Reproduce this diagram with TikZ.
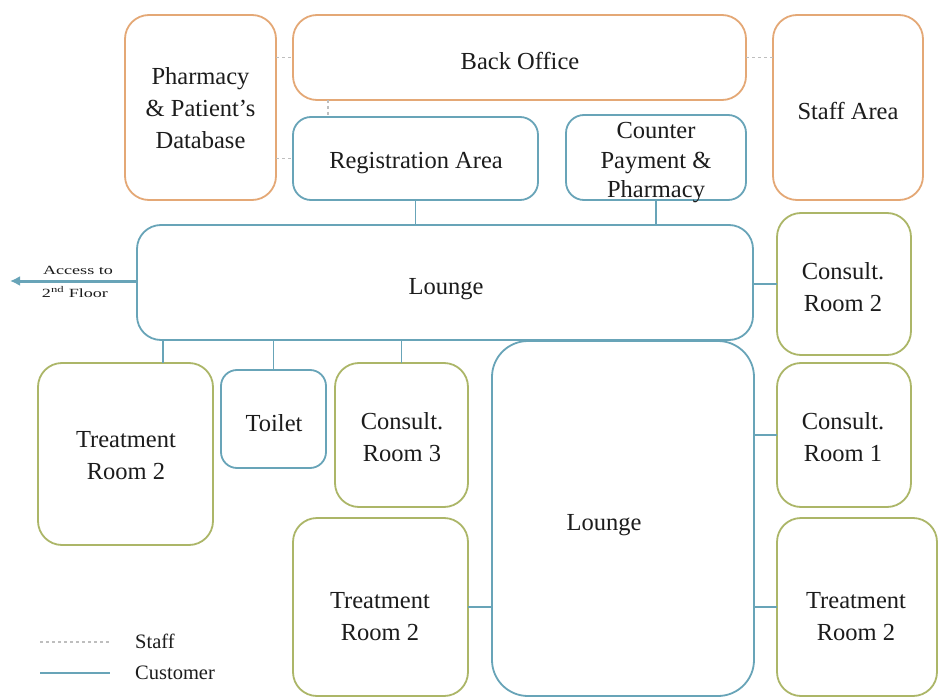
\documentclass[tikz,border=0pt]{standalone}
\usepackage{fontspec}
\setmainfont{Liberation Serif}
\newfontfamily\widefont[FakeStretch=1.45]{Liberation Serif}
\usetikzlibrary{arrows.meta}
\definecolor{staffedge}{RGB}{228,168,118}
\definecolor{custedge}{RGB}{104,164,184}
\definecolor{roomedge}{RGB}{172,182,104}
\definecolor{staffline}{RGB}{190,190,190}
\definecolor{ink}{RGB}{28,28,28}
\tikzset{
  room/.style={draw, rectangle, rounded corners=24pt, line width=1.8pt, inner sep=0pt, outer sep=0pt},
  staffroom/.style={room, draw=staffedge},
  custroom/.style={room, draw=custedge},
  careroom/.style={room, draw=roomedge},
  roomtext/.style={text=ink, align=center, inner sep=0pt, font=\fontsize{24.5}{32}\selectfont},
  staffpath/.style={draw=staffline, line width=1.2pt, dashed, dash pattern=on 3pt off 3pt},
  custpath/.style={draw=custedge, line width=1.5pt},
  lbl/.style={text=ink, font=\fontsize{20.5}{24}\selectfont, anchor=west, inner sep=0pt},
  smalllbl/.style={text=ink, inner sep=0pt, font=\widefont\fontsize{12.5}{14}\selectfont}
}
\begin{document}
\begin{tikzpicture}[x=1pt,y=-1pt]
\useasboundingbox (0,0) rectangle (940,698);
\fill[white] (0,0) rectangle (940,698);

% staff rooms
\node[staffroom, minimum width=151pt, minimum height=185pt] (pharm) at (200.5,107.5) {};
\node[staffroom, minimum width=453pt, minimum height=85pt] (back) at (519.5,57.5) {};
\node[staffroom, minimum width=150pt, minimum height=185pt] (staff) at (848,107.5) {};

% customer areas
\node[custroom, minimum width=245pt, minimum height=83pt, rounded corners=18pt] (reg) at (415.5,158.5) {};
\node[custroom, minimum width=180pt, minimum height=85pt, rounded corners=18pt] (counter) at (656,157.5) {};
\node[custroom, minimum width=616pt, minimum height=115pt] (lounge) at (445,282.5) {};
\node[custroom, minimum width=105pt, minimum height=98pt, rounded corners=16pt] (toilet) at (273.5,419) {};
\node[custroom, minimum width=262pt, minimum height=355pt, rounded corners=36pt] (big) at (623,518.5) {};

% care rooms
\node[careroom, minimum width=134pt, minimum height=142pt] (cr2) at (844,284) {};
\node[careroom, minimum width=134pt, minimum height=144pt] (cr1) at (844,435) {};
\node[careroom, minimum width=133pt, minimum height=144pt] (cr3) at (401.5,435) {};
\node[careroom, minimum width=175pt, minimum height=182pt] (trl) at (125.5,454) {};
\node[careroom, minimum width=175pt, minimum height=178pt] (trm) at (380.5,607) {};
\node[careroom, minimum width=160pt, minimum height=178pt] (trr) at (857,607) {};

% room names
\node[roomtext] (pharmtxt) at (200.5,108) {Pharmacy\\\& Patient’s\\Database};
\node[roomtext] (backtxt) at (520,61) {Back Office};
\node[roomtext] (stafftxt) at (848,111) {Staff Area};
\node[roomtext] (regtxt) at (416,163) {Registration Area};
\node[roomtext, font=\fontsize{24.5}{29.5}\selectfont] (countertxt) at (656,163) {Counter\\Payment \&\\Pharmacy};
\node[roomtext] (loungetxt) at (446,289) {Lounge};
\node[roomtext] (toilettxt) at (274,423) {Toilet};
\node[roomtext] (bigtxt) at (604,525) {Lounge};
\node[roomtext] (cr2txt) at (843,287) {Consult.\\Room 2};
\node[roomtext] (cr1txt) at (843,437) {Consult.\\Room 1};
\node[roomtext] (cr3txt) at (402,437) {Consult.\\Room 3};
\node[roomtext] (trltxt) at (126,456) {Treatment\\Room 2};
\node[roomtext] (trmtxt) at (380,617) {Treatment\\Room 2};
\node[roomtext] (trrtxt) at (856,617) {Treatment\\Room 2};

% staff connections
\coordinate (sx) at (328,0);
\draw[staffpath] (pharm.east |- back.west) -- (back.west);
\draw[staffpath] (pharm.east |- reg.west) -- (reg.west);
\draw[staffpath] (back.east) -- (staff.west |- back.east);
\draw[staffpath] (back.south -| sx) -- (reg.north -| sx);

% customer connections
\coordinate (tlx) at (163,0);
\draw[custpath] (reg.south) -- (reg.south |- lounge.north);
\draw[custpath] (counter.south) -- (counter.south |- lounge.north);
\draw[custpath] (lounge.east |- cr2.west) -- (cr2.west);
\draw[custpath] (lounge.south -| tlx) -- (trl.north -| tlx);
\draw[custpath] (toilet.north |- lounge.south) -- (toilet.north);
\draw[custpath] (cr3.north |- lounge.south) -- (cr3.north);
\draw[custpath] (big.east |- cr1.west) -- (cr1.west);
\draw[custpath] (big.east |- trr.west) -- (trr.west);
\draw[custpath] (trm.east) -- (big.west |- trm.east);

% access to the upper floor
\coordinate (up) at (10,281);
\draw[custedge, line width=3pt, -{Latex[length=10pt,width=10pt]}] (lounge.west |- up) -- (up);
\node[smalllbl] (acc1) at (78,270) {Access to};
\node[smalllbl] (acc2) at (75,292) {2\textsuperscript{nd} Floor};

% legend
\coordinate (ls1) at (40,642);
\coordinate (le1) at (110,642);
\coordinate (ls2) at (40,673);
\coordinate (le2) at (110,673);
\draw[staffpath] (ls1) -- (le1);
\draw[custpath] (ls2) -- (le2);
\node[lbl] (lgstaff) at (135,641) {Staff};
\node[lbl] (lgcust) at (135,673) {Customer};
\end{tikzpicture}
\end{document}
